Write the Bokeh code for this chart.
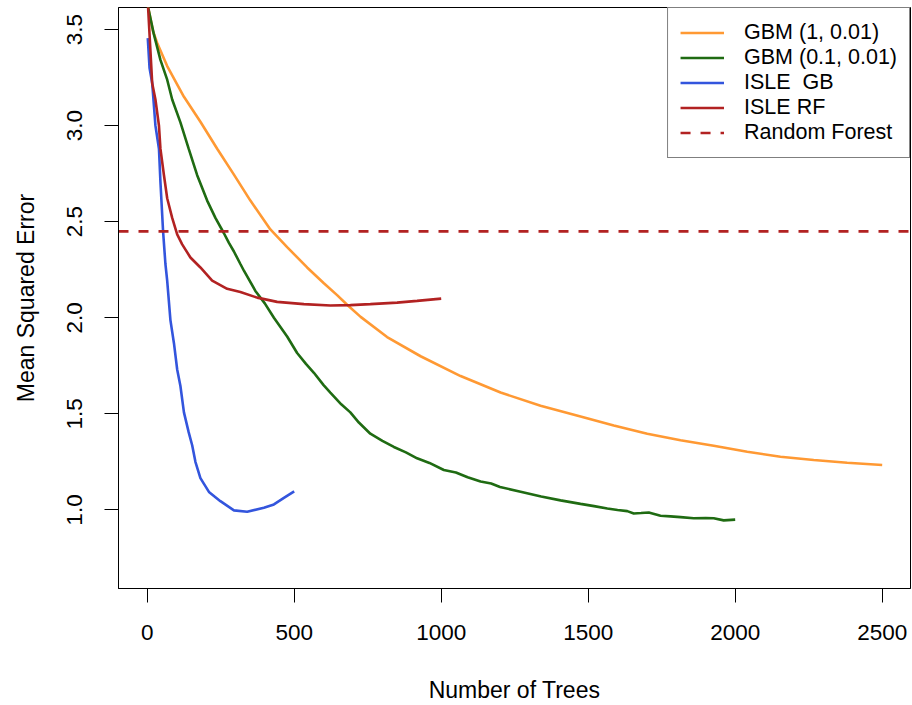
from bokeh.plotting import figure
from bokeh.models import FixedTicker, Legend, LegendItem, Range1d, PrintfTickFormatter
from bokeh.embed import file_html
from bokeh.resources import INLINE

# ---- data ----
x_ticks = [0, 500, 1000, 1500, 2000, 2500]
y_ticks = [1.0, 1.5, 2.0, 2.5, 3.0, 3.5]

gbm1_n = [1, 4, 20, 34, 68, 125, 181, 238, 295, 351, 419, 476, 544, 601, 646,
          680, 726, 816, 930, 1066, 1202, 1338, 1474, 1587, 1701, 1814, 1927,
          2041, 2154, 2267, 2381, 2500]
gbm1_mse = [3.64, 3.61, 3.49, 3.43, 3.31, 3.15, 3.02, 2.88, 2.745, 2.61, 2.46,
            2.368, 2.262, 2.18, 2.118, 2.068, 2.005, 1.90, 1.80, 1.697, 1.611,
            1.543, 1.487, 1.44, 1.397, 1.363, 1.334, 1.303, 1.277, 1.26, 1.246,
            1.234]

gbm01_n = [1, 4, 22, 45, 68, 85, 113, 141, 170, 204, 232, 261, 278, 295, 317,
           329, 368, 400, 431, 476, 510, 540, 567, 600, 623, 660, 691, 720, 759,
           800, 839, 880, 918, 960, 1009, 1050, 1090, 1134, 1170, 1200, 1270,
           1340, 1406, 1474, 1520, 1565, 1600, 1633, 1655, 1680, 1706, 1746,
           1780, 1814, 1859, 1900, 1927, 1961, 2000]
gbm01_mse = [3.64, 3.61, 3.48, 3.342, 3.239, 3.136, 3.017, 2.88, 2.742, 2.61,
             2.52, 2.44, 2.39, 2.345, 2.28, 2.245, 2.14, 2.075, 2.0, 1.903,
             1.817, 1.76, 1.714, 1.65, 1.611, 1.55, 1.508, 1.455, 1.397, 1.36,
             1.328, 1.30, 1.269, 1.245, 1.208, 1.195, 1.17, 1.148, 1.138, 1.12,
             1.095, 1.07, 1.05, 1.032, 1.02, 1.008, 1.0, 0.994, 0.982, 0.984,
             0.987, 0.97, 0.967, 0.963, 0.957, 0.958, 0.957, 0.946, 0.95]

isle_gb_n = [2, 8, 17, 28, 40, 45, 54, 62, 68, 79, 91, 102, 113, 125, 141, 153,
             164, 181, 210, 249, 295, 340, 397, 431, 465, 500]
isle_gb_mse = [3.455, 3.30, 3.222, 3.0, 2.88, 2.708, 2.451, 2.28, 2.194, 1.988,
               1.868, 1.731, 1.645, 1.508, 1.405, 1.337, 1.251, 1.166, 1.094,
               1.046, 0.998, 0.991, 1.012, 1.029, 1.063, 1.097]

isle_rf_n = [1, 3, 11, 17, 28, 40, 45, 57, 68, 85, 102, 119, 147, 181, 221, 272,
             317, 374, 442, 533, 623, 691, 759, 850, 918, 1000]
isle_rf_mse = [3.75, 3.616, 3.39, 3.22, 3.136, 3.0, 2.88, 2.742, 2.622, 2.52,
               2.434, 2.382, 2.314, 2.262, 2.194, 2.151, 2.134, 2.105, 2.083,
               2.071, 2.064, 2.066, 2.071, 2.079, 2.088, 2.10]

rf_mse = 2.45

labels = ["GBM (1, 0.01)", "GBM (0.1, 0.01)", "ISLE  GB", "ISLE RF", "Random Forest"]
colors = ["#FF9933", "#1F6B12", "#3355DD", "#B22222", "#B22222"]

FONT = "Liberation Sans"

x_start, x_end = -97.6, 2596.3
y_start, y_end = 0.5915, 3.6147

p = figure(width=912, height=705, output_backend="svg", toolbar_location=None,
           x_range=Range1d(x_start, x_end), y_range=Range1d(y_start, y_end),
           min_border_left=118, min_border_right=2, min_border_top=7,
           min_border_bottom=110)
p.background_fill_color = "white"
p.border_fill_color = "white"
p.outline_line_color = "black"
p.outline_line_width = 1
p.xgrid.visible = False
p.ygrid.visible = False

lw = 2.6
r1 = p.line(gbm1_n, gbm1_mse, line_color=colors[0], line_width=lw)
r2 = p.line(gbm01_n, gbm01_mse, line_color=colors[1], line_width=lw)
r3 = p.line(isle_gb_n, isle_gb_mse, line_color=colors[2], line_width=lw)
r4 = p.line(isle_rf_n, isle_rf_mse, line_color=colors[3], line_width=lw)
# horizontal reference line across the whole x range
r5 = p.line([x_start, x_end], [rf_mse, rf_mse], line_color=colors[4],
            line_width=lw, line_dash="10 10")

for ax in (p.xaxis[0], p.yaxis[0]):
    ax.axis_line_color = "black"
    ax.major_tick_line_color = "black"
    ax.major_tick_out = 14
    ax.major_tick_in = 0
    ax.minor_tick_line_color = None
    ax.major_label_text_font = FONT
    ax.major_label_text_font_size = "22.5px"
    ax.major_label_text_color = "black"
    ax.axis_label_text_font = FONT
    ax.axis_label_text_font_size = "23px"
    ax.axis_label_text_font_style = "normal"
    ax.axis_label_text_color = "black"

p.xaxis.ticker = FixedTicker(ticks=x_ticks)
p.yaxis.ticker = FixedTicker(ticks=y_ticks)
p.yaxis.formatter = PrintfTickFormatter(format="%.1f")
p.yaxis.major_label_orientation = "vertical"
p.xaxis.axis_label = "Number of Trees"
p.yaxis.axis_label = "Mean Squared Error"
p.xaxis.major_label_standoff = 22
p.xaxis.axis_label_standoff = 34
p.yaxis.major_label_standoff = 22
p.yaxis.axis_label_standoff = 26

legend = Legend(items=[LegendItem(label=labels[i], renderers=[r])
                       for i, r in enumerate([r1, r2, r3, r4, r5])],
                location="top_right", margin=0, padding=12, spacing=0,
                glyph_width=44, glyph_height=25, label_height=25,
                label_standoff=20, label_text_font=FONT,
                label_text_font_size="21.5px", label_text_color="black",
                border_line_color="black", border_line_width=1,
                background_fill_color="white", background_fill_alpha=1)
p.add_layout(legend)

open("out.html", "w").write(file_html(p, INLINE))
